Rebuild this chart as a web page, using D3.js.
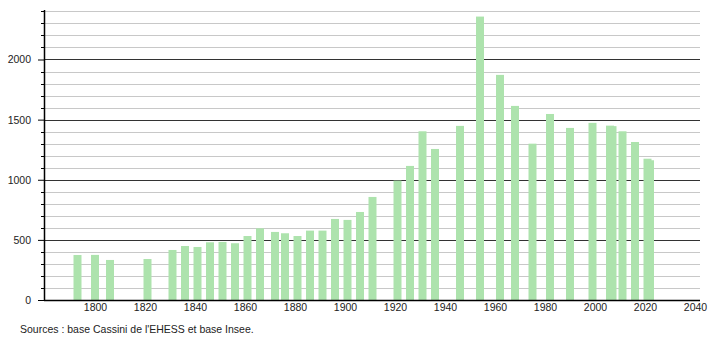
<!DOCTYPE html>
<html>
<head>
<meta charset="utf-8">
<script src="https://cdn.jsdelivr.net/npm/d3@7"></script>
<style>
  body { margin: 0; background: #fff; }
  text { font-family: "Liberation Sans", Arial, sans-serif; fill: #222; }
</style>
</head>
<body>
<div id="chart"></div>
<script>
// census years and population
var years = [1793, 1800, 1806, 1821, 1831, 1836, 1841, 1846, 1851, 1856,
    1861, 1866, 1872, 1876, 1881, 1886, 1891, 1896, 1901, 1906,
    1911, 1921, 1926, 1931, 1936, 1946, 1954, 1962, 1968, 1975,
    1982, 1990, 1999, 2006, 2007, 2011, 2016, 2021, 2022];
var population = [374, 375, 333, 341, 416, 449, 441, 480, 483, 472,
    532, 596, 566, 555, 532, 577, 577, 674, 666, 732,
    857, 993, 1115, 1403, 1256, 1448, 2357, 1872, 1614, 1300,
    1547, 1431, 1473, 1450, 1446, 1403, 1314, 1175, 1162];
var xTicks = [1800, 1820, 1840, 1860, 1880, 1900, 1920, 1940, 1960, 1980, 2000, 2020, 2040];
var yMajor = [0, 500, 1000, 1500, 2000];
var yMinor = d3.range(0, 2500, 100);

var svgWidth = 710;
var svgHeight = 340;

var svg = d3.select("#chart")
    .append("svg")
    .attr("width", svgWidth)
    .attr("height", svgHeight);

var x = d3.scaleLinear()
    .domain([1780, 2040])
    .range([45, 695]);

var y = d3.scaleLinear()
    .domain([0, 2400])
    .range([300, 11.4]);

var left = 44, right = 700;

// minor gridlines
svg.append("g")
    .selectAll("line")
    .data(yMinor.filter(d => d % 500 !== 0))
    .enter()
    .append("line")
    .attr("x1", left)
    .attr("x2", right)
    .attr("y1", d => Math.round(y(d)) + 0.5)
    .attr("y2", d => Math.round(y(d)) + 0.5)
    .attr("stroke", "#c8c8c8");

// major gridlines
svg.append("g")
    .selectAll("line")
    .data(yMajor.filter(d => d > 0))
    .enter()
    .append("line")
    .attr("x1", left)
    .attr("x2", right)
    .attr("y1", d => Math.round(y(d)) + 0.5)
    .attr("y2", d => Math.round(y(d)) + 0.5)
    .attr("stroke", "#333");

// bars
var barW = 8;
svg.append("g")
    .selectAll("rect")
    .data(years)
    .enter()
    .append("rect")
    .attr("x", (d, i) => x(d) - barW / 2)
    .attr("y", (d, i) => y(population[i]))
    .attr("width", barW)
    .attr("height", (d, i) => y(0) - y(population[i]))
    .attr("fill", "#ade3ad");

// y axis
var leftAxis = d3.axisLeft(y)
    .tickValues(yMajor)
    .tickFormat(d3.format("d"))
    .tickSize(6)
    .tickPadding(7);
var yAxisG = svg.append("g")
    .attr("transform", `translate(${left}, 0)`)
    .call(leftAxis);
yAxisG.select(".domain").remove();
yAxisG.selectAll("text").style("font-size", "10.5px").attr("fill", "#222");

svg.append("g")
    .selectAll("line")
    .data(yMinor.filter(d => d % 500 !== 0))
    .enter()
    .append("line")
    .attr("x1", left - 3)
    .attr("x2", left)
    .attr("y1", d => Math.round(y(d)) + 0.5)
    .attr("y2", d => Math.round(y(d)) + 0.5)
    .attr("stroke", "#000");

svg.append("line")
    .attr("x1", left + 0.5)
    .attr("x2", left + 0.5)
    .attr("y1", 10)
    .attr("y2", 300)
    .attr("stroke", "#000")
    .attr("stroke-width", 1.5);

// x axis
var bottomAxis = d3.axisBottom(x)
    .tickValues(xTicks)
    .tickFormat(d3.format("d"))
    .tickSize(0)
    .tickPadding(4);
var xAxisG = svg.append("g")
    .attr("transform", "translate(0, 300)")
    .call(bottomAxis);
xAxisG.select(".domain").remove();
xAxisG.selectAll("text").style("font-size", "10.5px").attr("fill", "#222");

svg.append("line")
    .attr("x1", left)
    .attr("x2", right)
    .attr("y1", 300.5)
    .attr("y2", 300.5)
    .attr("stroke", "#000")
    .attr("stroke-width", 1.5);

// source note
svg.append("text")
    .attr("x", 20)
    .attr("y", 333)
    .style("font-size", "10.5px")
    .text("Sources : base Cassini de l'EHESS et base Insee.");
</script>
</body>
</html>
